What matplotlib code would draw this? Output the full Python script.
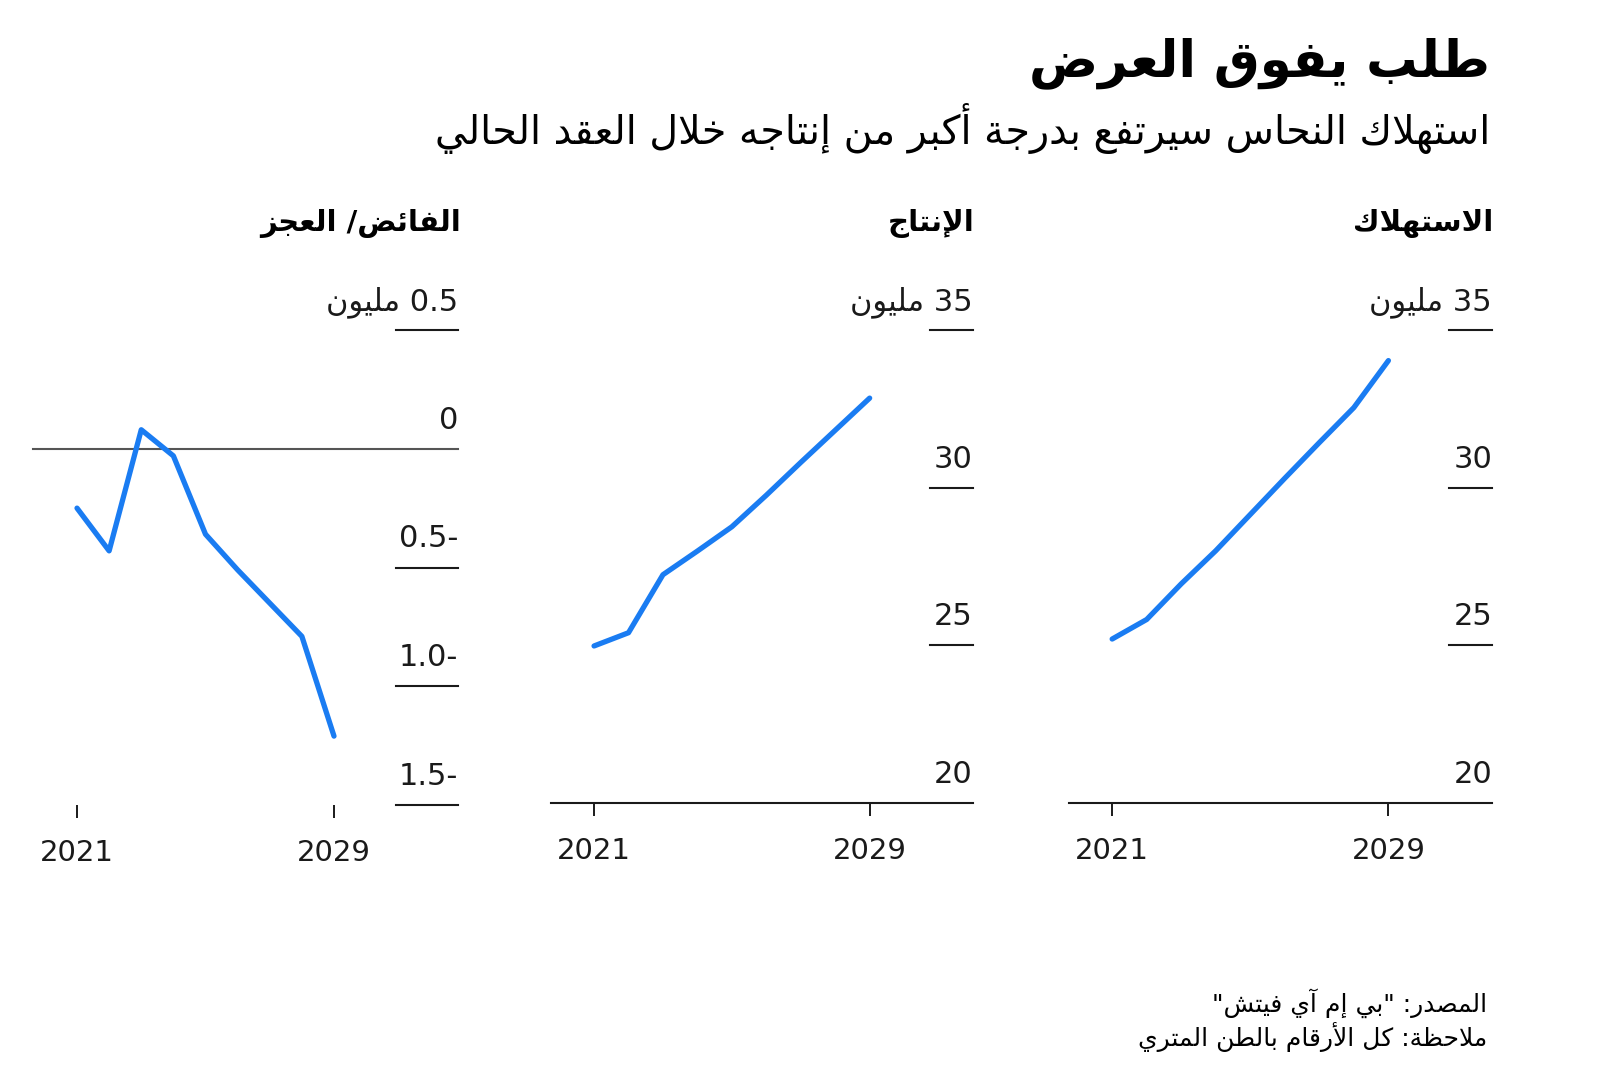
import re
import matplotlib
matplotlib.use('Agg')
import matplotlib.pyplot as plt

plt.rcParams['font.family'] = ['DejaVu Sans']

# values (million tonnes)
years = [2021, 2022, 2023, 2024, 2025, 2026, 2027, 2028, 2029]
consumption = [25.2, 25.82, 26.95, 28.0, 29.15, 30.3, 31.43, 32.54, 34.03]
production = [24.98, 25.4, 27.24, 27.99, 28.76, 29.76, 30.8, 31.82, 32.84]
balance = [-0.25, -0.43, 0.08, -0.03, -0.36, -0.51, -0.65, -0.79, -1.21]

level_ticks = [20, 25, 30, 35]
level_labels = ['20', '25', '30', '35 مليون']
balance_ticks = [-1.5, -1.0, -0.5, 0, 0.5]
balance_labels = ['-1.5', '-1.0', '-0.5', '0', '0.5 مليون']
year_ticks = [2021, 2029]

title = 'طلب يفوق العرض'
subtitle = 'استهلاك النحاس سيرتفع بدرجة أكبر من إنتاجه خلال العقد الحالي'
headers = ['الاستهلاك', 'الإنتاج', 'الفائض/ العجز']
source = 'المصدر: "بي إم آي فيتش"'
note = 'ملاحظة: كل الأرقام بالطن المتري'

BLUE = '#1a7cf2'
INK = '#1a1a1a'

# --- minimal arabic shaping (matplotlib has no bidi / joining) ---
_letters = [chr(c) for c in range(0x0621, 0x063B)] + [chr(c) for c in range(0x0641, 0x064B)]
_counts = [1, 2, 2, 2, 2, 4, 2, 4, 2, 4, 4, 4, 4, 4, 2, 2, 2, 2, 4, 4, 4, 4, 4, 4, 4, 4,
           4, 4, 4, 4, 4, 4, 4, 2, 2, 4]
FORMS = {}
code = 0xFE80
for ch, n in zip(_letters, _counts):
    FORMS[ch] = (code, n)
    code += n
LAM_ALEF = {'\u0622': 0xFEF5, '\u0623': 0xFEF7, '\u0625': 0xFEF9, '\u0627': 0xFEFB}


def shape(text):
    out = []
    i = 0
    while i < len(text):
        ch = text[i]
        if ch not in FORMS:
            out.append(ch)
            i += 1
            continue
        prev = text[i - 1] if i > 0 else ''
        joins_prev = prev in FORMS and FORMS[prev][1] == 4
        if ch == '\u0644' and i + 1 < len(text) and text[i + 1] in LAM_ALEF:
            out.append(chr(LAM_ALEF[text[i + 1]] + (1 if joins_prev else 0)))
            i += 2
            continue
        base, cnt = FORMS[ch]
        nxt = text[i + 1] if i + 1 < len(text) else ''
        joins_next = cnt == 4 and nxt in FORMS and FORMS[nxt][1] > 1
        if cnt == 1:
            f = 0
        elif cnt == 2:
            f = 1 if joins_prev else 0
        else:
            f = 3 if (joins_prev and joins_next) else 2 if joins_next else 1 if joins_prev else 0
        out.append(chr(base + f))
        i += 1
    vis = ''.join(out)[::-1]
    return re.sub(r'[0-9.]+', lambda m: m.group(0)[::-1], vis)


fig = plt.figure(figsize=(16, 10.75), dpi=100)
W, H = 1600, 1075


def panel(x0, x1, y_top, y_bot):
    return fig.add_axes([x0 / W, 1 - y_bot / H, (x1 - x0) / W, (y_bot - y_top) / H])


def style(ax, xlim, ylim):
    ax.set_xlim(*xlim)
    ax.set_ylim(*ylim)
    for s in ax.spines.values():
        s.set_visible(False)
    ax.set_yticks([])
    ax.set_xticks(year_ticks)
    ax.set_xticklabels([str(y) for y in year_ticks])
    ax.tick_params(axis='x', length=9.5, width=1.4, color=INK, pad=15,
                   labelsize=21, labelcolor=INK)
    ax.patch.set_visible(False)


def ylabels(ax, ticks, labels):
    for v, lab in zip(ticks, labels):
        ax.annotate(shape(lab), xy=(1, v), xycoords=('axes fraction', 'data'),
                    xytext=(0, 14.5), textcoords='offset points',
                    ha='right', va='baseline', fontsize=22, color=INK)


# consumption (right) and production (middle)
for (x0, x1), vals in [((1069, 1492), consumption), ((551, 973), production)]:
    ax = panel(x0, x1, 330, 803)
    style(ax, (2019.75, 2032.0), (20, 35))
    for v in level_ticks:
        xmin = 0 if v == 20 else 0.898
        ax.axhline(v, xmin=xmin, xmax=1, color=INK, lw=1.5, clip_on=False)
    ylabels(ax, level_ticks, level_labels)
    ax.plot(years, vals, color=BLUE, lw=3.8, solid_capstyle='round',
            solid_joinstyle='round', clip_on=False)

# surplus / deficit (left)
ax = panel(33, 458, 330, 805)
style(ax, (2019.63, 2032.86), (-1.5, 0.5))
ax.tick_params(axis='x', length=9.5, pad=15)
for v in balance_ticks:
    if v == 0:
        ax.axhline(v, xmin=0, xmax=1, color='#555555', lw=1.5, clip_on=False)
    else:
        ax.axhline(v, xmin=0.854, xmax=1, color=INK, lw=1.5, clip_on=False)
ylabels(ax, balance_ticks, balance_labels)
ax.plot(years, balance, color=BLUE, lw=3.8, solid_capstyle='round',
        solid_joinstyle='round', clip_on=False)

# headers
for x, h in zip([1493, 975, 461], headers):
    fig.text(x / W, 1 - 224 / H, shape(h), ha='right', va='center',
             fontsize=21, fontweight='bold', color='black')

fig.text(1490 / W, 1 - 63 / H, shape(title), ha='right', va='center',
         fontsize=37, fontweight='bold', color='black')
fig.text(1490 / W, 1 - 128 / H, shape(subtitle), ha='right', va='center',
         fontsize=28.5, color='black')
fig.text(1487 / W, 1 - 1003 / H, shape(source), ha='right', va='center',
         fontsize=18, color='black')
fig.text(1487 / W, 1 - 1037 / H, shape(note), ha='right', va='center',
         fontsize=18, color='black')

fig.savefig('out.png', dpi=100, facecolor='white')
